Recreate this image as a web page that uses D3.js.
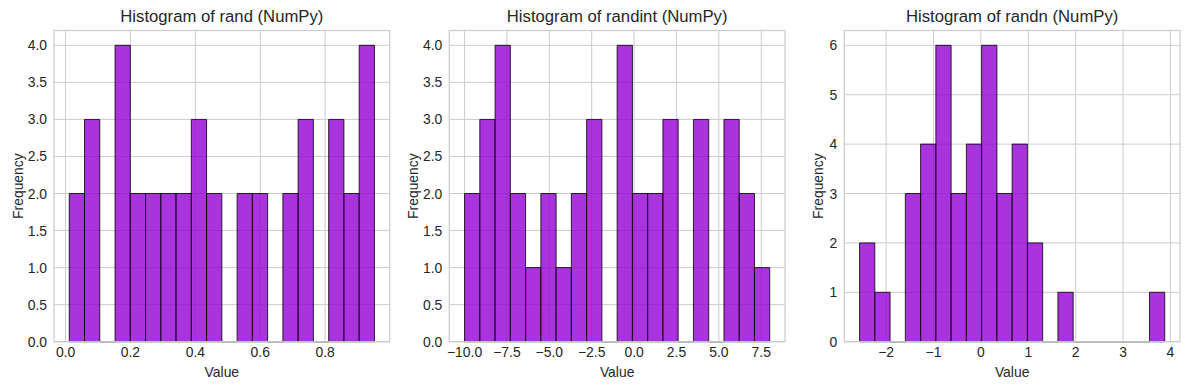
<!DOCTYPE html>
<html>
<head>
<meta charset="utf-8">
<script src="https://cdn.jsdelivr.net/npm/d3@7"></script>
<style>
body { margin: 0; background: #fff; }
svg { font-family: "Liberation Sans", Arial, sans-serif; }
</style>
</head>
<body>
<svg id="chart" width="1189" height="390"></svg>
<script>
// counts per bin (20 bins each)
var randCounts = [2, 3, 0, 4, 2, 2, 2, 2, 3, 2, 0, 2, 2, 0, 2, 3, 0, 3, 2, 4];
var randintCounts = [2, 3, 4, 2, 1, 2, 1, 2, 3, 0, 4, 2, 2, 3, 0, 3, 0, 3, 2, 1];
var randnCounts = [2, 1, 0, 3, 4, 6, 3, 4, 6, 3, 4, 2, 0, 1, 0, 0, 0, 0, 0, 1];

// min / max of each sample (first and last bin edge)
var randRange = [0.0114, 0.952];
var randintRange = [-10, 8];
var randnRange = [-2.561, 3.88];

var randXTicks = [0.0, 0.2, 0.4, 0.6, 0.8];
var randintXTicks = [-10, -7.5, -5, -2.5, 0, 2.5, 5, 7.5];
var randnXTicks = [-2, -1, 0, 1, 2, 3, 4];
var halfYTicks = [0, 0.5, 1, 1.5, 2, 2.5, 3, 3.5, 4];
var randnYTicks = [0, 1, 2, 3, 4, 5, 6];

var titles = ['Histogram of rand (NumPy)', 'Histogram of randint (NumPy)', 'Histogram of randn (NumPy)'];

var svg = d3.select('#chart');
var plotTop = 30.5, plotBottom = 341.7, w = 335.7;
var lefts = [54, 449.3, 844.3];

function minus(s) { return s.replace('-', '\u2212'); }

function drawPanel(i, counts, range, xTicks, yTicks, yMax, xFmt, yFmt) {
    var left = lefts[i];
    var g = svg.append('g');
    var pad = (range[1] - range[0]) * 0.05;
    var x = d3.scaleLinear().domain([range[0] - pad, range[1] + pad]).range([left, left + w]);
    var y = d3.scaleLinear().domain([0, yMax]).range([plotBottom, plotTop]);
    var step = (range[1] - range[0]) / counts.length;

    // grid
    g.selectAll('.gx').data(xTicks).enter().append('line')
        .attr('x1', function(d) { return x(d); }).attr('x2', function(d) { return x(d); })
        .attr('y1', plotTop).attr('y2', plotBottom)
        .attr('stroke', '#cccccc').attr('stroke-width', 1);
    g.selectAll('.gy').data(yTicks).enter().append('line')
        .attr('y1', function(d) { return y(d); }).attr('y2', function(d) { return y(d); })
        .attr('x1', left).attr('x2', left + w)
        .attr('stroke', '#cccccc').attr('stroke-width', 1);

    // bars
    g.selectAll('.bar').data(counts).enter().append('path')
        .attr('d', function(d, j) {
            var x0 = x(range[0] + j * step), x1 = x(range[0] + (j + 1) * step);
            return 'M' + x0 + ',' + y(0) + 'V' + y(d) + 'H' + x1 + 'V' + y(0) + 'Z';
        })
        .attr('fill', '#9400D3').attr('fill-opacity', 0.8)
        .attr('stroke', '#000').attr('stroke-opacity', 0.8).attr('stroke-width', 1);

    // frame
    g.append('rect').attr('x', left).attr('y', plotTop).attr('width', w).attr('height', plotBottom - plotTop)
        .attr('fill', 'none').attr('stroke', '#cccccc').attr('stroke-width', 1.25);

    // tick labels
    g.selectAll('.tx').data(xTicks).enter().append('text')
        .attr('x', function(d) { return x(d); }).attr('y', 357)
        .attr('text-anchor', 'middle').attr('font-size', 13.9).attr('fill', '#262626')
        .text(function(d) { return minus(xFmt(d)); });
    g.selectAll('.ty').data(yTicks).enter().append('text')
        .attr('x', left - 7).attr('y', function(d) { return y(d); }).attr('dy', '0.36em')
        .attr('text-anchor', 'end').attr('font-size', 13.9).attr('fill', '#262626')
        .text(function(d) { return yFmt(d); });

    // labels + title
    g.append('text').attr('x', left + w / 2).attr('y', 377).attr('text-anchor', 'middle')
        .attr('font-size', 13.9).attr('fill', '#262626').text('Value');
    var yl = left - (i == 2 ? 21 : 31);
    g.append('text').attr('transform', 'translate(' + yl + ',' + ((plotTop + plotBottom) / 2) + ') rotate(-90)')
        .attr('text-anchor', 'middle').attr('font-size', 13.9).attr('fill', '#262626').text('Frequency');
    g.append('text').attr('x', left + w / 2).attr('y', 22).attr('text-anchor', 'middle')
        .attr('font-size', 16.7).attr('fill', '#262626').text(titles[i]);
}

drawPanel(0, randCounts, randRange, randXTicks, halfYTicks, 4.2, d3.format('.1f'), d3.format('.1f'));
drawPanel(1, randintCounts, randintRange, randintXTicks, halfYTicks, 4.2, d3.format('.1f'), d3.format('.1f'));
drawPanel(2, randnCounts, randnRange, randnXTicks, randnYTicks, 6.3, d3.format('d'), d3.format('d'));
</script>
</body>
</html>
